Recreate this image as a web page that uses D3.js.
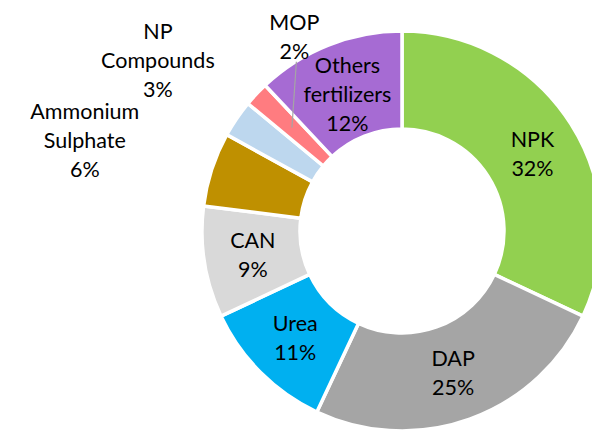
<!DOCTYPE html>
<html>
<head>
<meta charset="utf-8">
<script src="https://cdn.jsdelivr.net/npm/d3@7"></script>
<style>
  html, body { margin: 0; padding: 0; background: #fff; }
  svg { display: block; }
</style>
</head>
<body>
<div id="chart"></div>
<script>
(function () {
  'use strict';

  // ── Data ──
  var categories = ['NPK', 'DAP', 'Urea', 'CAN', 'Ammonium Sulphate', 'NP Compounds', 'MOP', 'Others fertilizers'];
  var shares = [32, 25, 11, 9, 6, 3, 2, 12];
  var labelLines = [['NPK'], ['DAP'], ['Urea'], ['CAN'], ['Ammonium', 'Sulphate'], ['NP', 'Compounds'], ['MOP'], ['Others', 'fertilizers']];
  var colors = ['#92D050', '#A5A5A5', '#00B0F0', '#D9D9D9', '#BF9000', '#BDD7EE', '#FF7C80', '#A66BD3'];

  // ── Layout ──
  var WIDTH = 592;
  var HEIGHT = 435;
  var CX = 402;
  var CY = 231;
  var R_OUTER = 200;
  var R_INNER = 102;
  var FONT = 'Lato, "Open Sans", sans-serif';
  var FONT_SIZE = 21.5;
  var LINE_H = 29;
  // labels that Excel pushed outside the ring: radius + angle (deg) from the centre
  var OUTSIDE = {
    'Ammonium Sulphate': { r: 330, a: 286 },
    'NP Compounds': { r: 298, a: 305 },
    'MOP': { r: 222, a: 331, leader: true }
  };
  // small nudges of in-ring labels, as Excel placed them
  var NUDGE = { 'Others fertilizers': [1, 4], 'NPK': [3, 4] };

  var svg = d3.select('#chart').append('svg')
    .attr('width', WIDTH)
    .attr('height', HEIGHT);

  var g = svg.append('g').attr('transform', 'translate(' + CX + ',' + CY + ')');

  var pie = d3.pie().sort(null).value(function (d) { return d; });
  var arcs = pie(shares);

  var arc = d3.arc().innerRadius(R_INNER).outerRadius(R_OUTER);
  var midArc = d3.arc().innerRadius((R_INNER + R_OUTER) / 2).outerRadius((R_INNER + R_OUTER) / 2);

  g.selectAll('path.slice')
    .data(arcs)
    .join('path')
    .attr('class', 'slice')
    .attr('d', arc)
    .attr('fill', function (d, i) { return colors[i]; })
    .attr('stroke', '#fff')
    .attr('stroke-width', 3.5)
    .attr('stroke-linejoin', 'miter');

  function polar(r, deg) {
    var t = deg * Math.PI / 180;
    return [r * Math.sin(t), -r * Math.cos(t)];
  }

  arcs.forEach(function (d, i) {
    var name = categories[i];
    var lines = labelLines[i].concat([shares[i] + '%']);
    var pos;
    var out = OUTSIDE[name];
    if (out) {
      pos = polar(out.r, out.a);
    } else {
      pos = midArc.centroid(d);
      if (NUDGE[name]) pos = [pos[0] + NUDGE[name][0], pos[1] + NUDGE[name][1]];
    }

    if (out && out.leader) {
      var c = midArc.centroid(d);
      var bottom = pos[1] + (lines.length * LINE_H) / 2 - 4;
      g.append('line')
        .attr('x1', pos[0] + 2).attr('y1', bottom)
        .attr('x2', c[0]).attr('y2', c[1])
        .attr('stroke', '#A5A5A5')
        .attr('stroke-width', 1.2);
    }

    var top = pos[1] - ((lines.length - 1) * LINE_H) / 2;
    var txt = g.append('text')
      .attr('text-anchor', 'middle')
      .attr('font-family', FONT)
      .attr('font-size', FONT_SIZE)
      .attr('fill', '#000');
    lines.forEach(function (ln, j) {
      txt.append('tspan')
        .attr('x', pos[0])
        .attr('y', top + j * LINE_H)
        .attr('dy', '0.35em')
        .text(ln);
    });
  });
})();
</script>
</body>
</html>
